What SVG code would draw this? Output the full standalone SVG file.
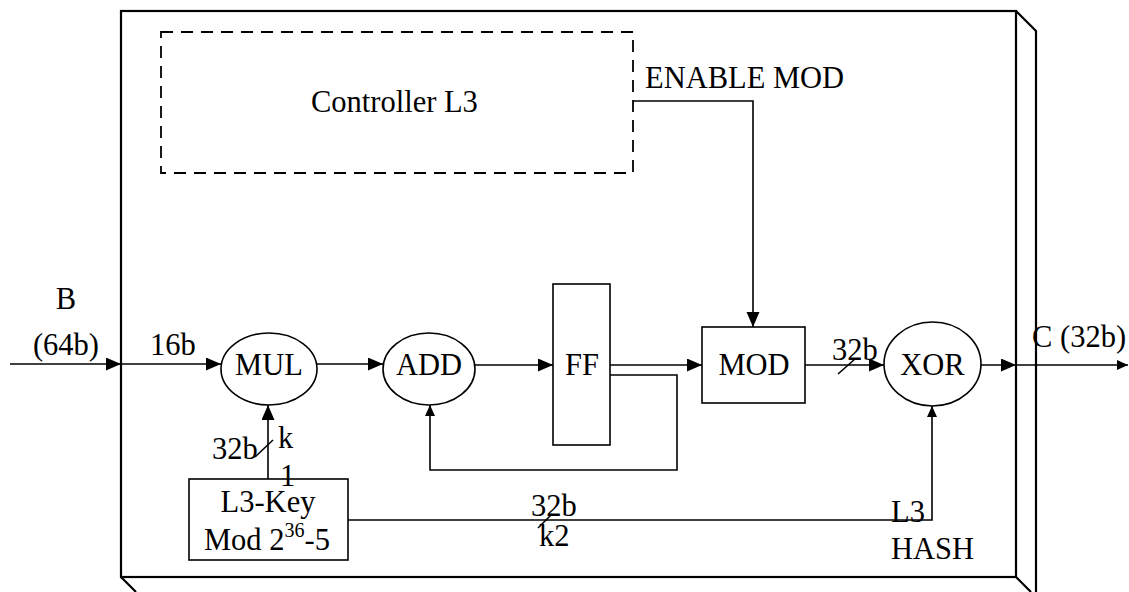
<svg xmlns="http://www.w3.org/2000/svg" width="1129" height="592" viewBox="0 0 1129 592">
<style>
text{font-family:"Liberation Serif","Times New Roman",serif;font-size:30.5px;fill:#000}
.ln{fill:none;stroke:#000;stroke-width:1.6}
.sh{fill:#fff;stroke:#000;stroke-width:1.6}
.frame{fill:none;stroke:#000;stroke-width:2.2}
.dash{fill:none;stroke:#000;stroke-width:1.8;stroke-dasharray:12 8}
</style>
<defs>
<marker id="ah" markerUnits="userSpaceOnUse" markerWidth="16" markerHeight="14" refX="15" refY="6.5" orient="auto">
<path d="M0,0 L15,6.5 L0,13 z" fill="#000"/>
</marker>
<marker id="as" markerUnits="userSpaceOnUse" markerWidth="12" markerHeight="12" refX="11" refY="5" orient="auto">
<path d="M0,0 L11,5 L0,10 z" fill="#000"/>
</marker>
</defs>
<rect width="1129" height="592" fill="#fff"/>
<g id="frame">
<rect class="frame" x="121" y="11" width="895" height="566"/>
<path class="frame" d="M1016,11 L1036,31 L1036,592 M121,577 L136,592 M1016,577 L1031,592"/>
</g>
<g id="controller">
<rect class="dash" x="161" y="32" width="472" height="141"/>
<text x="311" y="112">Controller L3</text>
</g>
<g id="mul">
<ellipse class="sh" cx="269" cy="369" rx="48" ry="36"/>
<text x="269" y="375" text-anchor="middle">MUL</text>
</g>
<g id="add">
<ellipse class="sh" cx="429" cy="369" rx="46" ry="36"/>
<text x="429" y="375" text-anchor="middle">ADD</text>
</g>
<g id="ff">
<rect class="sh" x="553" y="284" width="57" height="161"/>
<text x="582" y="375" text-anchor="middle">FF</text>
</g>
<g id="mod">
<rect class="sh" x="702" y="327" width="103" height="76"/>
<text x="754" y="375" text-anchor="middle">MOD</text>
</g>
<g id="xor">
<ellipse class="sh" cx="932.5" cy="364" rx="48.5" ry="42"/>
<text x="932.5" y="375" text-anchor="middle">XOR</text>
</g>
<g id="key">
<rect class="sh" x="189" y="479" width="159" height="81"/>
<text x="268" y="512" text-anchor="middle">L3-Key</text>
<text x="204" y="550">Mod 2<tspan font-size="20" dy="-13">36</tspan><tspan dy="13">-5</tspan></text>
</g>
<g id="connectors">
<path class="ln" d="M10,364 L121,364" marker-end="url(#ah)"/>
<path class="ln" d="M121,364 L221,364" marker-end="url(#ah)"/>
<path class="ln" d="M317,364 L383,364" marker-end="url(#ah)"/>
<path class="ln" d="M475,365 L553,365" marker-end="url(#ah)"/>
<path class="ln" d="M610,365 L702,365" marker-end="url(#ah)"/>
<path class="ln" d="M610,375 L677,375 L677,470 L430,470 L430,405" marker-end="url(#as)"/>
<path class="ln" d="M633,101 L753,101 L753,327" marker-end="url(#ah)"/>
<path class="ln" d="M805,365 L884,365" marker-end="url(#ah)"/>
<path class="ln" d="M838,374 L855,359"/>
<path class="ln" d="M981,365 L1016,365" marker-end="url(#ah)"/>
<path class="ln" d="M1016,365 L1128,365" marker-end="url(#as)"/>
<path class="ln" d="M268,479 L268,405" marker-end="url(#ah)"/>
<path class="ln" d="M255,457 L273,440"/>
<path class="ln" d="M348,520 L932,520 L932,406" marker-end="url(#as)"/>
<path class="ln" d="M538,528 L552,514"/>
</g>
<g id="labels">
<text x="66" y="309" text-anchor="middle">B</text>
<text x="66" y="355" text-anchor="middle">(64b)</text>
<text x="150" y="355">16b</text>
<text x="645" y="88">ENABLE MOD</text>
<text x="832" y="360">32b</text>
<text x="1032" y="347">C (32b)</text>
<text x="212" y="459">32b</text>
<text x="278" y="448">k</text>
<text x="280" y="486">1</text>
<text x="531" y="516">32b</text>
<text x="539" y="546">k2</text>
<text x="891" y="522">L3</text>
<text x="891" y="559">HASH</text>
</g>
</svg>
